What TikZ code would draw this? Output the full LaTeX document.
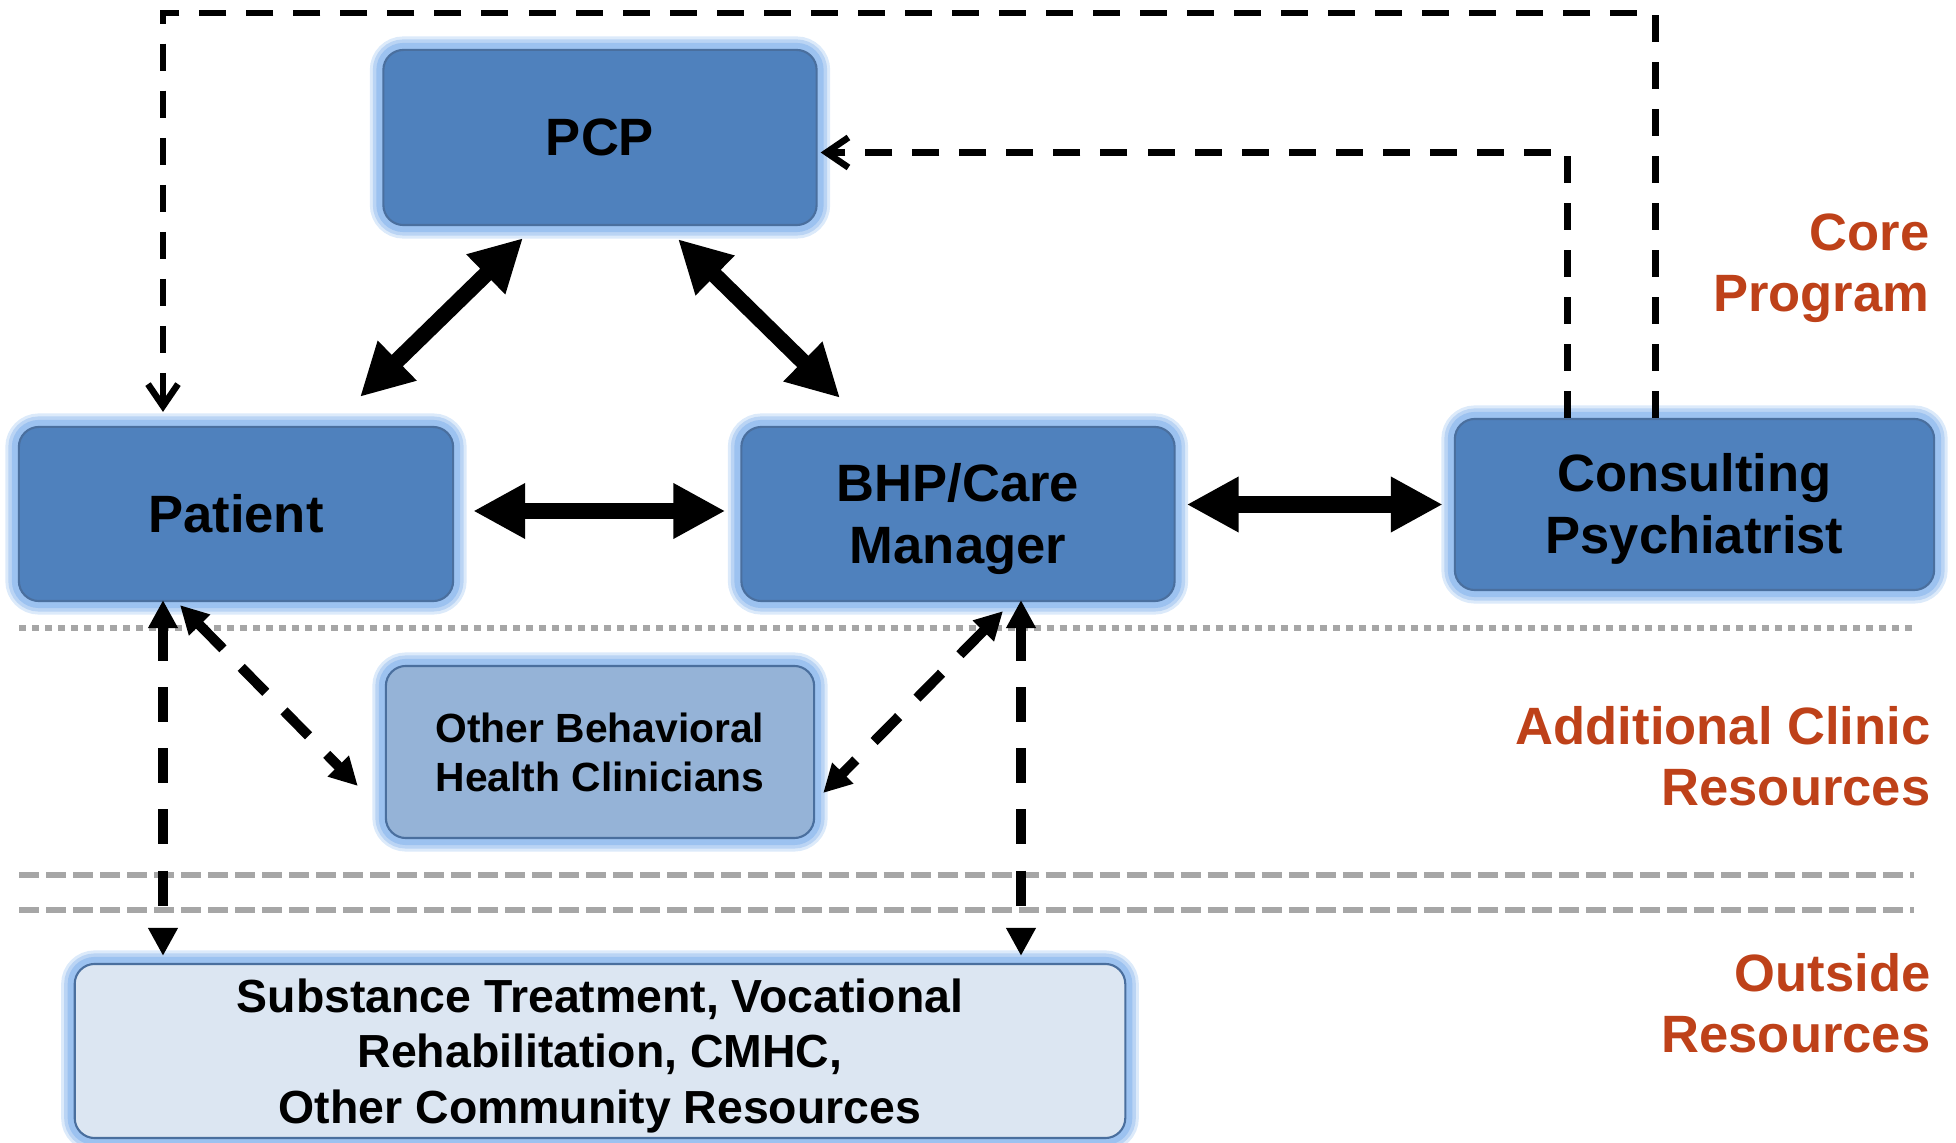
\documentclass[tikz,border=0pt]{standalone}
\usepackage{fontspec}
\setmainfont{Liberation Sans}
\usetikzlibrary{arrows.meta,calc}
\definecolor{boxblue}{HTML}{4F81BD}
\definecolor{boxedge}{HTML}{4A6F9E}
\definecolor{glowblue}{HTML}{9CC2F0}
\definecolor{midblue}{HTML}{95B3D7}
\definecolor{paleblue}{HTML}{DCE6F2}
\definecolor{sepgray}{HTML}{A6A6A6}
\definecolor{labelred}{HTML}{BE4119}
\newcommand\topfill[1]{\rule{0pt}{#1}}
\begin{document}
\begin{tikzpicture}[x=0.01cm,y=-0.01cm,
  glowbox/.style={rounded corners=0.2cm, draw=boxedge, line width=0.6pt,
    font=\fontsize{14.94}{17.6}\selectfont\bfseries, align=center, inner sep=0pt,
    preaction={draw=glowblue!35, line width=0.27cm},
    preaction={draw=glowblue!70, line width=0.21cm},
    preaction={draw=glowblue, line width=0.14cm}},
  corebox/.style={glowbox, fill=boxblue},
  lbl/.style={text=labelred, font=\fontsize{14.94}{17.6}\selectfont\bfseries, align=right, inner sep=0pt},
  bigarrow/.style={line width=0.16cm, {Triangle[length=0.52cm,width=0.52cm]}-{Triangle[length=0.52cm,width=0.52cm]}},
  dasharrow/.style={line width=0.1cm, dash pattern=on 0.35cm off 0.26cm, {Triangle[length=0.28cm,width=0.28cm]}-{Triangle[length=0.28cm,width=0.28cm]}},
  topdash/.style={line width=0.065cm, dash pattern=on 0.27cm off 0.2cm, -{Straight Barb[length=0.22cm,width=0.3cm]}},
  sepdot/.style={draw=sepgray, line width=0.065cm, dash pattern=on 0.07cm off 0.06cm},
  sepdash/.style={draw=sepgray, line width=0.065cm, dash pattern=on 0.2cm off 0.07cm}
]
\useasboundingbox (0,0) rectangle (1956,1143);

% separators
\coordinate (s1a) at (19,628);  \coordinate (s1b) at (1914,628);
\coordinate (s2a) at (19,875);  \coordinate (s2b) at (1914,875);
\coordinate (s3a) at (19,910);  \coordinate (s3b) at (1914,910);
\draw[sepdot] (s1a) -- (s1b);
\draw[sepdash] (s2a) -- (s2b);
\draw[sepdash] (s3a) -- (s3b);

% boxes
\node[corebox, minimum width=4.33cm, minimum height=1.75cm] (pcp) at (600,137.5) {PCP};
\node[corebox, minimum width=4.34cm, minimum height=1.74cm] (pat) at (236,514) {Patient};
\node[corebox, minimum width=4.33cm, minimum height=1.74cm] (bhp) at (958,514) {\topfill{0.92em}BHP/Care\\Manager};
\node[corebox, minimum width=4.79cm, minimum height=1.71cm] (cons) at (1694.5,504.5) {\topfill{0.9em}Consulting\\Psychiatrist};
\node[glowbox, fill=midblue, minimum width=4.28cm, minimum height=1.72cm,
  font=\fontsize{11.6}{13.9}\selectfont\bfseries] (obh) at (600,752) {Other Behavioral\\Health Clinicians};
\node[glowbox, fill=paleblue, minimum width=10.5cm, minimum height=1.74cm,
  font=\fontsize{13.2}{15.9}\selectfont\bfseries] (out) at (600,1051) {\topfill{0.94em}Substance Treatment, Vocational\\Rehabilitation, CMHC,\\Other Community Resources};

% labels
\node[lbl, anchor=base east] (core) at (1930,312) {Core\\Program};
\node[lbl, anchor=base east] (acr) at (1931,806) {Additional Clinic\\Resources};
\node[lbl, anchor=base east] (outl) at (1931,1053) {Outside\\Resources};

% thick arrows
\draw[bigarrow] ($(pat.east)+(19,-3)$) -- ($(bhp.west)+(-15,-3)$);
\draw[bigarrow] ($(bhp.east |- cons)+(11,0)$) -- ($(cons.west)+(-11,0)$);
\draw[bigarrow] ($(pcp.south)+(-77,12)$) -- ($(pat.north)+(124,-29)$);
\draw[bigarrow] ($(pcp.south)+(78,13)$) -- ($(bhp.north)+(-118,-28)$);

% dashed arrows lower
\coordinate (pa) at ($(pat.south)+(-73,-2)$);
\coordinate (ba) at ($(bhp.south)+(63,-2)$);
\draw[dasharrow] (pa) -- ($(pa |- out.north)+(0,-7)$);
\draw[dasharrow] (ba) -- ($(ba |- out.north)+(0,-7)$);
\draw[dasharrow] ($(pat.south)+(-56,3)$) -- ($(obh.west)+(-27,34)$);
\draw[dasharrow] ($(bhp.south)+(45,9)$) -- ($(obh.east)+(8,41)$);

% top dashed feedback lines
\coordinate (ytop) at (900,13);
\draw[topdash] ($(cons.north)+(-39,0)$) |- (ytop) -| ($(pat.north)+(-73,-14)$);
\draw[topdash] ($(cons.north)+(-127,0)$) |- ($(pcp.east)+(3,15)$);
\end{tikzpicture}
\end{document}
